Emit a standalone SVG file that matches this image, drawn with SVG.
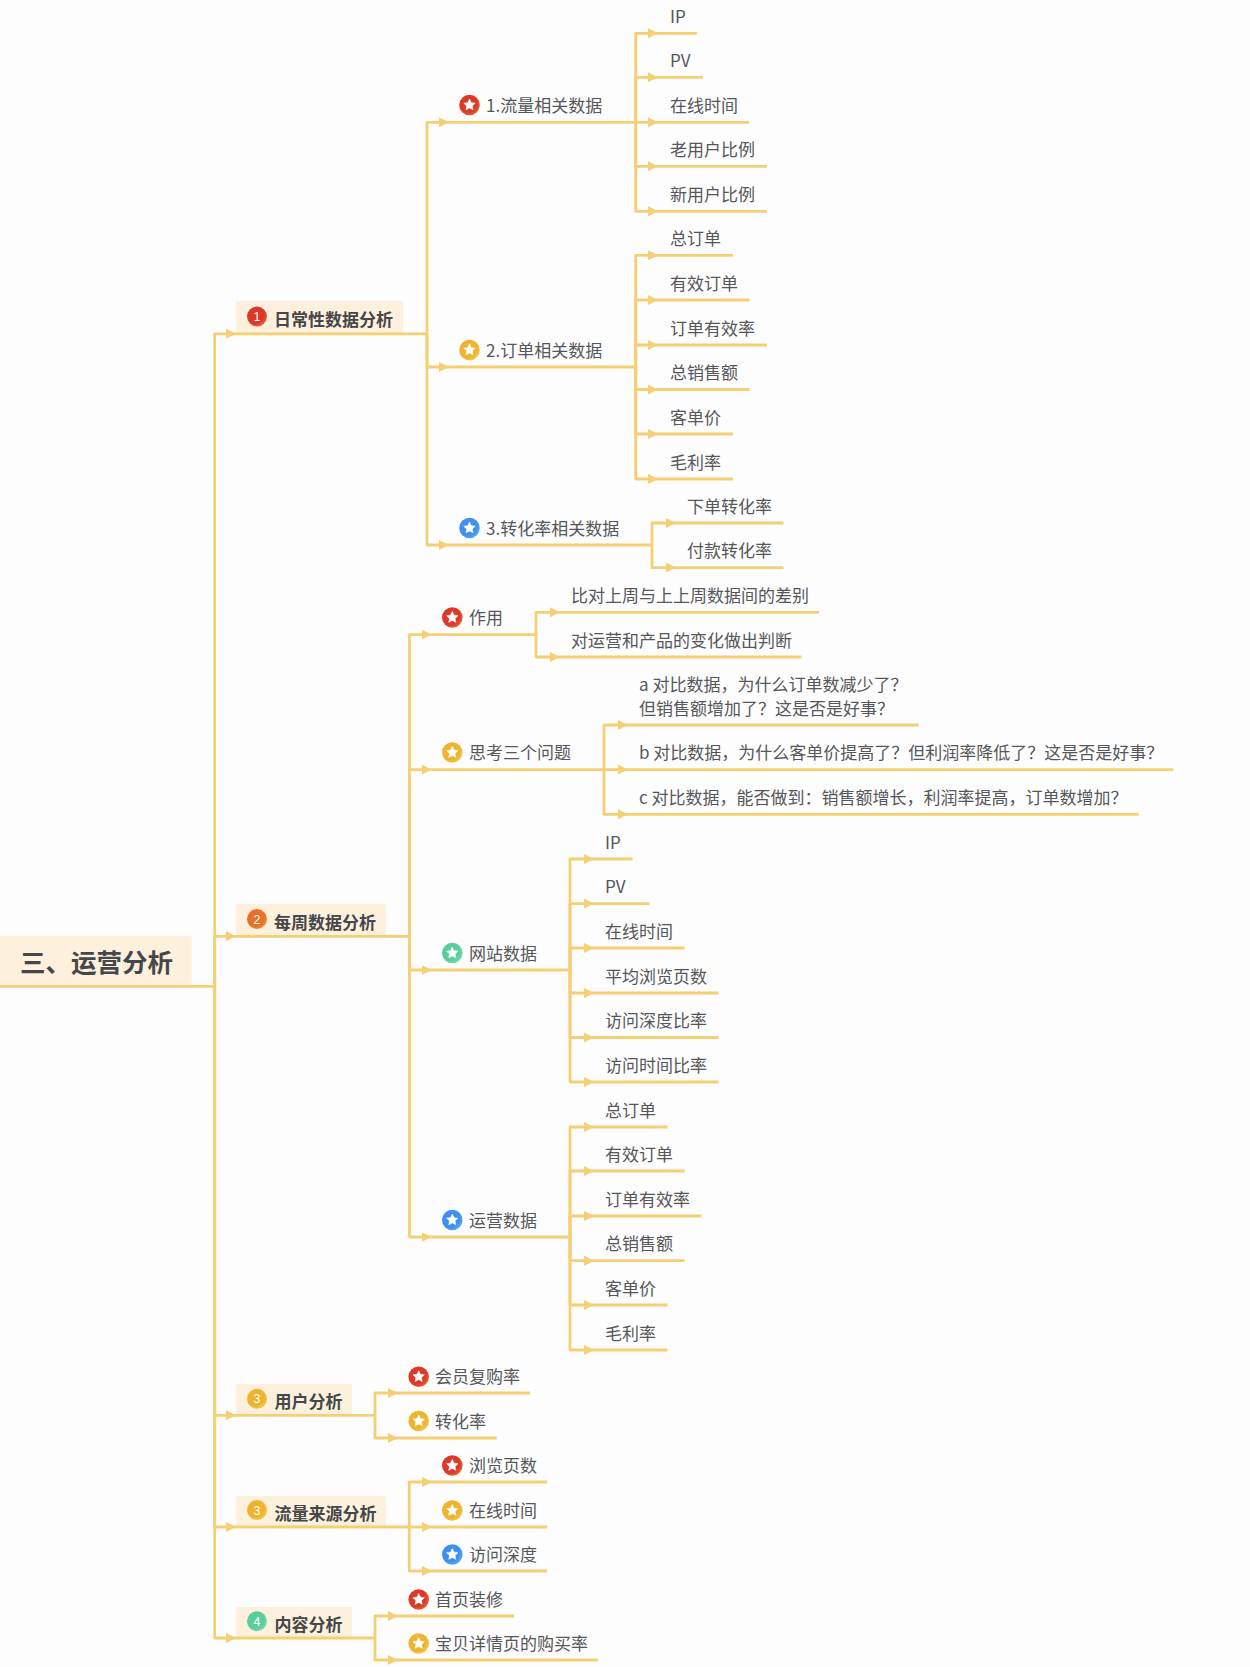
<svg xmlns="http://www.w3.org/2000/svg" xmlns:xlink="http://www.w3.org/1999/xlink" width="1250" height="1667" viewBox="0 0 1250 1667">
<style>
text{font-family:"Noto Sans CJK SC","Noto Sans",sans-serif;font-size:17px;fill:#55575a}
.b{font-weight:700;fill:#45474a}
.r{font-size:25.5px;font-weight:700;fill:#45474a}
.n{font-size:12.5px;fill:#fff;text-anchor:middle;font-family:"Liberation Sans",sans-serif}
.box{fill:#fdf0dc}
.u{stroke:#f4cf74;stroke-width:2.8;fill:none}
.c{stroke:#f4cf74;stroke-width:2.8;fill:none;stroke-linejoin:round;marker-end:url(#arrow)}
.s{fill:#fff;stroke:#fff;stroke-width:.6;stroke-linejoin:round}
</style>
<defs>
<marker id="arrow" markerUnits="userSpaceOnUse" markerWidth="10" markerHeight="11" refX="10" refY="5.5" orient="auto"><path d="M0 .5L10 5.5L0 10.5Z" fill="#f4cf74"/></marker>
<radialGradient id="red" cx=".4" cy=".4" r=".75"><stop offset=".6" stop-color="#dc3a28"/><stop offset="1" stop-color="#ea7a3a"/></radialGradient>
<radialGradient id="yel" cx=".4" cy=".4" r=".75"><stop offset=".6" stop-color="#eeb32f"/><stop offset="1" stop-color="#f5d45a"/></radialGradient>
<radialGradient id="blu" cx=".4" cy=".4" r=".75"><stop offset=".6" stop-color="#3f8fef"/><stop offset="1" stop-color="#6cc0f5"/></radialGradient>
<radialGradient id="grn" cx=".4" cy=".4" r=".75"><stop offset=".6" stop-color="#58cf9a"/><stop offset="1" stop-color="#8ee6bd"/></radialGradient>
<radialGradient id="org" cx=".4" cy=".4" r=".75"><stop offset=".6" stop-color="#e8702a"/><stop offset="1" stop-color="#f2a040"/></radialGradient>
<path id="star" class="s" d="M0-6L1.7-2.35 5.7-1.85 2.76.9 3.53 4.85 0 2.9-3.53 4.85-2.76.9-5.7-1.85-1.7-2.35Z"/>
</defs>
<rect width="1250" height="1667" fill="#fdfdfd"/>
<g id="connectors">
<path class="c" d="M214.7 986.3V333.8H236"/><path class="c" d="M214.7 986.3V936.3H236"/><path class="c" d="M214.7 986.3V1415.3H236"/><path class="c" d="M214.7 986.3V1527H236"/><path class="c" d="M214.7 986.3V1638H236"/>
<path class="c" d="M427 333.8V122.3H449"/><path class="c" d="M427 333.8V367H449"/><path class="c" d="M427 333.8V545H449"/>
<path class="c" d="M635.7 122.3V33.3H658"/><path class="c" d="M635.7 122.3V77.3H658"/><path class="c" d="M635.7 122.3H658"/><path class="c" d="M635.7 122.3V166.3H658"/><path class="c" d="M635.7 122.3V211.3H658"/>
<path class="c" d="M635.7 367V255.3H658"/><path class="c" d="M635.7 367V300H658"/><path class="c" d="M635.7 367V345H658"/><path class="c" d="M635.7 367V389.5H658"/><path class="c" d="M635.7 367V434H658"/><path class="c" d="M635.7 367V479H658"/>
<path class="c" d="M652 545V523H676"/><path class="c" d="M652 545V567.6H676"/>
<path class="c" d="M409.5 936.3V634.6H431.7"/><path class="c" d="M409.5 936.3V769.6H431.7"/><path class="c" d="M409.5 936.3V970H431.7"/><path class="c" d="M409.5 936.3V1237H431.7"/>
<path class="c" d="M536 634.6V612.3H560"/><path class="c" d="M536 634.6V657H560"/>
<path class="c" d="M604 769.6V725H628"/><path class="c" d="M604 769.6H628"/><path class="c" d="M604 769.6V814.3H628"/>
<path class="c" d="M570 970V859H594"/><path class="c" d="M570 970V903.6H594"/><path class="c" d="M570 970V948H594"/><path class="c" d="M570 970V993H594"/><path class="c" d="M570 970V1037.5H594"/><path class="c" d="M570 970V1082H594"/>
<path class="c" d="M570 1237V1127H594"/><path class="c" d="M570 1237V1171H594"/><path class="c" d="M570 1237V1216H594"/><path class="c" d="M570 1237V1260.7H594"/><path class="c" d="M570 1237V1305H594"/><path class="c" d="M570 1237V1350H594"/>
<path class="c" d="M375 1415.3V1393H398"/><path class="c" d="M375 1415.3V1438H398"/>
<path class="c" d="M409.3 1527V1482H432"/><path class="c" d="M409.3 1527H432"/><path class="c" d="M409.3 1527V1571H432"/>
<path class="c" d="M375 1638V1616H398"/><path class="c" d="M375 1638V1660H398"/>
</g>
<g id="root"><rect class="box" x="0" y="935.7" width="191.7" height="50"/><path class="u" d="M0 986.3H214.7"/><text class="r" x="20" y="971.5">三、运营分析</text></g>

<g id="daily"><rect class="box" x="236" y="301" width="167" height="32"/><path class="u" d="M236 333.8H427"/><circle cx="257" cy="316.5" r="10" fill="url(#red)"/><text class="n" x="257" y="321">1</text><text class="b" x="274" y="326">日常性数据分析</text></g>
<g id="traffic"><path class="u" d="M449 122.3H635.7"/><circle cx="469.5" cy="105" r="10.3" fill="url(#red)"/><use xlink:href="#star" x="469.5" y="105"/><text x="486" y="111.8">1.流量相关数据</text></g>
<g id="t1"><path class="u" d="M658 33.3H697"/><text x="670" y="22.8">IP</text></g>
<g id="t2"><path class="u" d="M658 77.3H703"/><text x="670" y="66.8">PV</text></g>
<g id="t3"><path class="u" d="M658 122.3H749"/><text x="670" y="111.8">在线时间</text></g>
<g id="t4"><path class="u" d="M658 166.3H767"/><text x="670" y="155.8">老用户比例</text></g>
<g id="t5"><path class="u" d="M658 211.3H767"/><text x="670" y="200.8">新用户比例</text></g>
<g id="orders"><path class="u" d="M449 367H635.7"/><circle cx="469.5" cy="350" r="10.3" fill="url(#yel)"/><use xlink:href="#star" x="469.5" y="350"/><text x="486" y="356.5">2.订单相关数据</text></g>
<g id="o1"><path class="u" d="M658 255.3H733"/><text x="670" y="244.8">总订单</text></g>
<g id="o2"><path class="u" d="M658 300H749.5"/><text x="670" y="289.5">有效订单</text></g>
<g id="o3"><path class="u" d="M658 345H767"/><text x="670" y="334.5">订单有效率</text></g>
<g id="o4"><path class="u" d="M658 389.5H749.5"/><text x="670" y="379">总销售额</text></g>
<g id="o5"><path class="u" d="M658 434H733"/><text x="670" y="423.5">客单价</text></g>
<g id="o6"><path class="u" d="M658 479H733"/><text x="670" y="468.5">毛利率</text></g>
<g id="conv"><path class="u" d="M449 545H652"/><circle cx="469.5" cy="528" r="10.3" fill="url(#blu)"/><use xlink:href="#star" x="469.5" y="528"/><text x="486" y="534.5">3.转化率相关数据</text></g>
<g id="c1"><path class="u" d="M676 523H783.5"/><text x="687" y="512.5">下单转化率</text></g>
<g id="c2"><path class="u" d="M676 567.6H783.5"/><text x="687" y="557">付款转化率</text></g>

<g id="weekly"><rect class="box" x="236" y="903.7" width="150" height="32"/><path class="u" d="M236 936.3H409.5"/><circle cx="257" cy="919" r="10" fill="url(#org)"/><text class="n" x="257" y="923.5">2</text><text class="b" x="274" y="928.5">每周数据分析</text></g>
<g id="effect"><path class="u" d="M431.7 634.6H536"/><circle cx="452.3" cy="617.5" r="10.3" fill="url(#red)"/><use xlink:href="#star" x="452.3" y="617.5"/><text x="469" y="624">作用</text></g>
<g id="e1"><path class="u" d="M560 612.3H819"/><text x="571" y="601.8">比对上周与上上周数据间的差别</text></g>
<g id="e2"><path class="u" d="M560 657H801.5"/><text x="571" y="646.5">对运营和产品的变化做出判断</text></g>
<g id="think"><path class="u" d="M431.7 769.6H604"/><circle cx="452.3" cy="752.5" r="10.3" fill="url(#yel)"/><use xlink:href="#star" x="452.3" y="752.5"/><text x="469" y="759">思考三个问题</text></g>
<g id="q1"><path class="u" d="M628 725H918.5"/><text x="639" y="691">a 对比数据，为什么订单数减少了？</text><text x="639" y="715">但销售额增加了？这是否是好事？</text></g>
<g id="q2"><path class="u" d="M628 769.6H1173.5"/><text x="639" y="759">b 对比数据，为什么客单价提高了？但利润率降低了？这是否是好事？</text></g>
<g id="q3"><path class="u" d="M628 814.3H1138.5"/><text x="639" y="803.8">c 对比数据，能否做到：销售额增长，利润率提高，订单数增加？</text></g>
<g id="site"><path class="u" d="M431.7 970H570"/><circle cx="452.3" cy="953" r="10.3" fill="url(#grn)"/><use xlink:href="#star" x="452.3" y="953"/><text x="469" y="959.5">网站数据</text></g>
<g id="s1"><path class="u" d="M594 859H632.5"/><text x="605" y="848.5">IP</text></g>
<g id="s2"><path class="u" d="M594 903.6H649.5"/><text x="605" y="893">PV</text></g>
<g id="s3"><path class="u" d="M594 948H684.5"/><text x="605" y="937.5">在线时间</text></g>
<g id="s4"><path class="u" d="M594 993H718.5"/><text x="605" y="982.5">平均浏览页数</text></g>
<g id="s5"><path class="u" d="M594 1037.5H718.5"/><text x="605" y="1027">访问深度比率</text></g>
<g id="s6"><path class="u" d="M594 1082H718.5"/><text x="605" y="1071.5">访问时间比率</text></g>
<g id="ops"><path class="u" d="M431.7 1237H570"/><circle cx="452.3" cy="1220" r="10.3" fill="url(#blu)"/><use xlink:href="#star" x="452.3" y="1220"/><text x="469" y="1226.5">运营数据</text></g>
<g id="p1"><path class="u" d="M594 1127H667.5"/><text x="605" y="1116.5">总订单</text></g>
<g id="p2"><path class="u" d="M594 1171H684.5"/><text x="605" y="1160.5">有效订单</text></g>
<g id="p3"><path class="u" d="M594 1216H701.5"/><text x="605" y="1205.5">订单有效率</text></g>
<g id="p4"><path class="u" d="M594 1260.7H684.5"/><text x="605" y="1250">总销售额</text></g>
<g id="p5"><path class="u" d="M594 1305H667.5"/><text x="605" y="1294.5">客单价</text></g>
<g id="p6"><path class="u" d="M594 1350H667.5"/><text x="605" y="1339.5">毛利率</text></g>

<g id="user"><rect class="box" x="236" y="1384" width="116" height="31"/><path class="u" d="M236 1415.3H375"/><circle cx="257" cy="1398.7" r="10" fill="url(#yel)"/><text class="n" x="257" y="1403">3</text><text class="b" x="274.5" y="1408">用户分析</text></g>
<g id="u1"><path class="u" d="M398 1393H530"/><circle cx="418.7" cy="1376.7" r="10.3" fill="url(#red)"/><use xlink:href="#star" x="418.7" y="1376.7"/><text x="435" y="1382.5">会员复购率</text></g>
<g id="u2"><path class="u" d="M398 1438H496.7"/><circle cx="418.7" cy="1421" r="10.3" fill="url(#yel)"/><use xlink:href="#star" x="418.7" y="1421"/><text x="435" y="1427.5">转化率</text></g>
<g id="source"><rect class="box" x="236" y="1496" width="150" height="31"/><path class="u" d="M236 1527H409.3"/><circle cx="257" cy="1510" r="10" fill="url(#yel)"/><text class="n" x="257" y="1514.5">3</text><text class="b" x="274.5" y="1519.5">流量来源分析</text></g>
<g id="f1"><path class="u" d="M432 1482H547"/><circle cx="452.3" cy="1465.5" r="10.3" fill="url(#red)"/><use xlink:href="#star" x="452.3" y="1465.5"/><text x="469" y="1471.5">浏览页数</text></g>
<g id="f2"><path class="u" d="M432 1527H547"/><circle cx="452.3" cy="1510.5" r="10.3" fill="url(#yel)"/><use xlink:href="#star" x="452.3" y="1510.5"/><text x="469" y="1516.5">在线时间</text></g>
<g id="f3"><path class="u" d="M432 1571H547"/><circle cx="452.3" cy="1554.5" r="10.3" fill="url(#blu)"/><use xlink:href="#star" x="452.3" y="1554.5"/><text x="469" y="1560.5">访问深度</text></g>
<g id="content"><rect class="box" x="236" y="1607" width="116" height="31"/><path class="u" d="M236 1638H375"/><circle cx="257" cy="1621.3" r="10" fill="url(#grn)"/><text class="n" x="257" y="1626">4</text><text class="b" x="274.5" y="1631">内容分析</text></g>
<g id="h1"><path class="u" d="M398 1616H514"/><circle cx="418.7" cy="1599.5" r="10.3" fill="url(#red)"/><use xlink:href="#star" x="418.7" y="1599.5"/><text x="435" y="1605.5">首页装修</text></g>
<g id="h2"><path class="u" d="M398 1660H598"/><circle cx="418.7" cy="1643.5" r="10.3" fill="url(#yel)"/><use xlink:href="#star" x="418.7" y="1643.5"/><text x="435" y="1649.5">宝贝详情页的购买率</text></g>
</svg>
